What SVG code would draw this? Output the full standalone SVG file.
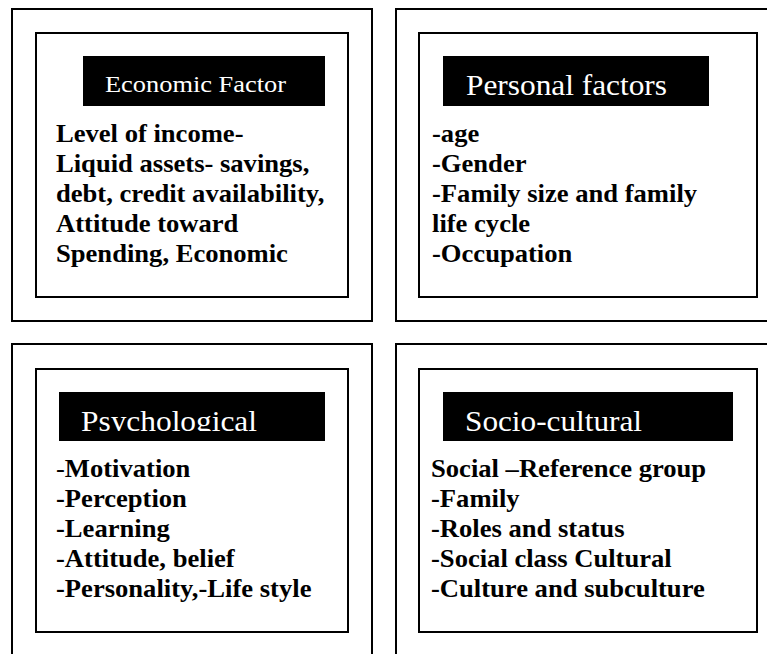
<svg xmlns="http://www.w3.org/2000/svg" width="767" height="654" viewBox="0 0 767 654">
  <style>
    .frame { fill: none; stroke: #000; stroke-width: 2; }
    .panel { fill: #fff; stroke: #000; stroke-width: 2; }
    .bar { fill: #000; }
    .title { font-family: "Liberation Serif", "Times New Roman", serif; fill: #fff; }
    .body { font-family: "Liberation Serif", "Times New Roman", serif; font-weight: bold; font-size: 25px; fill: #000; }
    .thin { font-weight: normal; }
  </style>
  <defs>
    <clipPath id="clip-psy"><rect x="59" y="392" width="266" height="39"/></clipPath>
    <clipPath id="clip-soc"><rect x="443" y="392" width="290" height="39"/></clipPath>
  </defs>
  <rect width="767" height="654" fill="#fff"/>

  <g id="economic">
    <rect class="frame" x="12" y="9" width="360" height="312"/>
    <rect class="panel" x="36" y="33" width="312" height="264"/>
    <rect class="bar" x="83" y="56" width="242" height="50"/>
    <text class="title" x="105" y="92" font-size="24" textLength="181" lengthAdjust="spacingAndGlyphs">Economic Factor</text>
    <!-- body lines are set slightly wide -->
    <g class="body" transform="translate(56 0) scale(1.064 1)">
      <text x="0" y="142">Level of income-</text>
      <text x="0" y="172">Liquid assets- savings,</text>
      <text x="0" y="202">debt, credit availability,</text>
      <text x="0" y="232">Attitude toward</text>
      <text x="0" y="262">Spending, Economic</text>
    </g>
  </g>

  <g id="personal">
    <path class="frame" d="M768 9 H396 V321 H768"/>
    <rect class="panel" x="419" y="33" width="338" height="264"/>
    <rect class="bar" x="443" y="56" width="266" height="50"/>
    <text class="title" x="466" y="95" font-size="30" textLength="201" lengthAdjust="spacingAndGlyphs">Personal factors</text>
    <g class="body" transform="translate(432 0) scale(1.064 1)">
      <text x="0" y="142">-age</text>
      <text x="0" y="172">-Gender</text>
      <text x="0" y="202">-Family size and family</text>
      <text x="0" y="232">life cycle</text>
      <text x="0" y="262">-Occupation</text>
    </g>
  </g>

  <g id="psychological">
    <path class="frame" d="M12 655 V344 H372 V655"/>
    <rect class="panel" x="36" y="369" width="312" height="263"/>
    <rect class="bar" x="59" y="392" width="266" height="49"/>
    <text class="title" x="81" y="431" font-size="30" textLength="176" lengthAdjust="spacingAndGlyphs" clip-path="url(#clip-psy)">Psychological</text>
    <g class="body" transform="translate(56 0) scale(1.064 1)">
      <text x="0" y="477"><tspan class="thin">-</tspan>Motivation</text>
      <text x="0" y="507">-Perception</text>
      <text x="0" y="537">-Learning</text>
      <text x="0" y="567">-Attitude, belief</text>
      <text x="0" y="597">-Personality,-Life style</text>
    </g>
  </g>

  <g id="sociocultural">
    <path class="frame" d="M396 655 V344 H768"/>
    <rect class="panel" x="419" y="369" width="338" height="263"/>
    <rect class="bar" x="443" y="392" width="290" height="49"/>
    <text class="title" x="465" y="431" font-size="30" textLength="177" lengthAdjust="spacingAndGlyphs" clip-path="url(#clip-soc)">Socio-cultural</text>
    <g class="body" transform="translate(431 0) scale(1.064 1)">
      <text x="0" y="477">Social –Reference group</text>
      <text x="0" y="507">-Family</text>
      <text x="0" y="537">-Roles and status</text>
      <text x="0" y="567">-Social class Cultural</text>
      <text x="0" y="597">-Culture and subculture</text>
    </g>
  </g>

  <g id="connectors"></g>
</svg>
